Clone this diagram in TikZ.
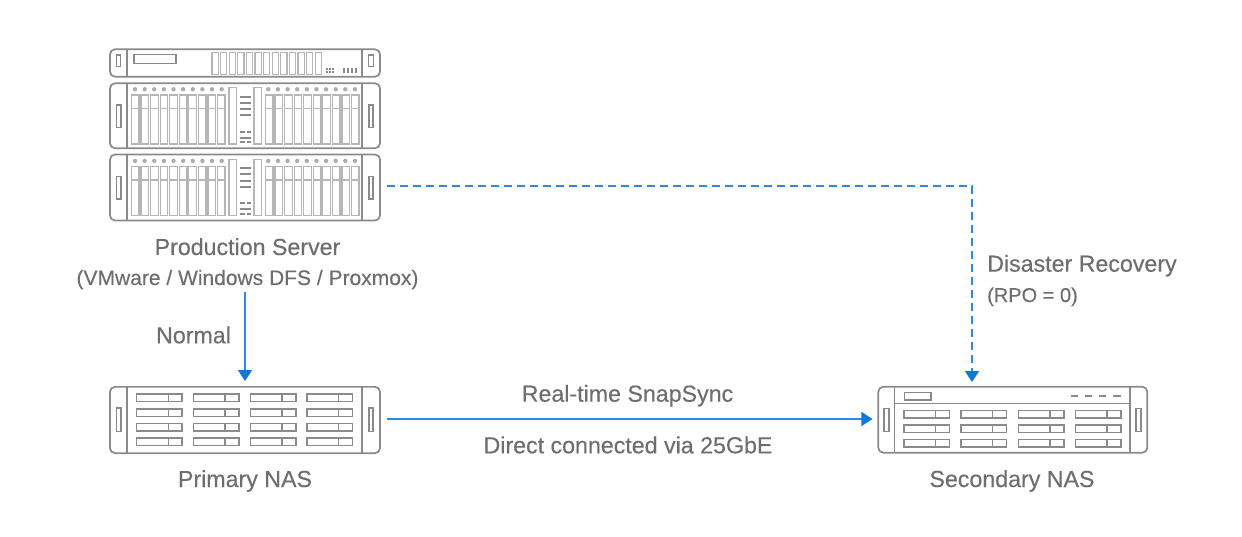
\documentclass[tikz,border=0pt]{standalone}
\usepackage{fontspec}
\setmainfont{Liberation Sans}[BoldFont={Liberation Sans},BoldFeatures={FakeBold=0.25}]
\usetikzlibrary{arrows.meta}
\definecolor{hw}{HTML}{8A8A8A}
\definecolor{txt}{HTML}{6E6E6E}
\definecolor{link}{HTML}{0F78DE}
\tikzset{
  chassis/.style={draw=hw,line width=1.7pt,rounded corners=5pt,inner sep=0pt,minimum width=#1},
  part/.style={draw=hw,line width=1.5pt},
  bay/.style={draw=hw!62,line width=1.3pt},
  bar/.style={draw=hw,line width=2pt},
  lab/.style={text=txt,font=\fontsize{23.2}{28}\selectfont\bfseries,inner sep=0pt,anchor=base},
  sublab/.style={text=txt,font=\fontsize{21}{26}\selectfont\bfseries,inner sep=0pt,anchor=base},
  conn/.style={draw=link!88!white,line width=1.7pt,-{Triangle[length=11pt,width=14pt,color=link]}},
}
\newcommand{\bladeserver}[1]{%
  \begin{scope}[yshift=#1]
    \draw[part] (127,83.3)--(127,148.3) (362,83.3)--(362,148.3);
    \draw[part] (116.5,105) rectangle (120.8,127.3) (368.8,105) rectangle (373.2,127.3);
    \foreach \i in {0,...,9}{
      \fill[hw!70] ({135+9.63*\i},89.3) circle (2.2pt);
      \fill[hw!70] ({268.3+9.63*\i},89.3) circle (2.2pt);
      \draw[bay] ({131.5+9.55*\i},95) rectangle ({131.5+9.55*\i+7.6},144);
      \draw[bay] ({265.5+9.55*\i},95) rectangle ({265.5+9.55*\i+7.6},144);
      \draw[bay] ({131.5+9.55*\i},108.3) -- ++(7.6,0);
      \draw[bay] ({265.5+9.55*\i},108.3) -- ++(7.6,0);
    }
    \draw[bay] (229,87.7) rectangle (236.7,144) (254,87.7) rectangle (261.7,144);
    \foreach \y in {96.7,102.7,109,115.3}{\draw[bar] (240,\y)--(251,\y);}
    \draw[bar] (240,137.7)--(251,137.7);
    \foreach \y in {131.7,142.3}{\draw[bar] (240,\y)--(244.5,\y) (246.5,\y)--(251,\y);}
  \end{scope}}
\newcommand{\drivebay}[2]{%
  \draw[part] (#1,#2) rectangle ++(45.5,7.5);
  \draw[part] ({#1+31.7},#2) -- ++(0,7.5);}
\begin{document}
\begin{tikzpicture}[x=1pt,y=-1pt]
\useasboundingbox (0,0) rectangle (1242,537);
\fill[white] (0,0) rectangle (1242,537);

% top server
\node[chassis=270pt,minimum height=27.4pt] (srvtop) at (245,63) {};
\draw[part] (127,49.3)--(127,76.7) (362,49.3)--(362,76.7);
\draw[part] (116.7,55) rectangle (120.7,66.7) (368.7,55) rectangle (373.3,66.7);
\draw[part] (134,54.3) rectangle (176,63.3);
\foreach \i in {0,...,12}{\draw[bay] ({212+8.6*\i},52.7) rectangle ({212+8.6*\i+6.2},74.3);}
\foreach \i in {0,1,2}{\draw[hw,line width=2pt] ({327+2.9*\i},68.5)--({327+2.9*\i},70.2) ({327+2.9*\i},71.5)--({327+2.9*\i},73);}
\foreach \i in {0,...,3}{\draw[hw,line width=2pt] ({344+3.9*\i},68)--({344+3.9*\i},73.2);}

% blade servers
\node[chassis=270pt,minimum height=65pt] (srvmid) at (245,115.8) {};
\bladeserver{0pt}
\node[chassis=270pt,minimum height=66pt] (srvlow) at (245,187.5) {};
\bladeserver{-71.6pt}

\node[lab] (prod) at (247.5,255) {Production Server};
\node[sublab] (prodsub) at (247.5,285) {(VMware / Windows DFS / Proxmox)};

% primary NAS
\node[chassis=270pt,minimum height=66.3pt] (pnas) at (245,420) {};
\draw[part] (127,387)--(127,453.3) (362,387)--(362,453.3);
\draw[part] (116.3,408) rectangle (120.8,431.7) (368.8,408) rectangle (373.2,431.7);
\foreach \x in {136.7,193.5,250.3,307}{\foreach \y in {394,409,423.6,438.2}{\drivebay{\x}{\y}}}
\node[lab] (pnaslab) at (245,487) {Primary NAS};

% secondary NAS
\node[chassis=269pt,minimum height=66pt] (snas) at (1012.8,419.7) {};
\draw[part] (894.3,386.7)--(894.3,452.7) (1130,386.7)--(1130,452.7) (894.3,403.3)--(1130,403.3);
\draw[part] (884.2,408.3) rectangle (889.2,431.7) (1136.2,408.3) rectangle (1141.2,431.7);
\draw[part] (904.3,392.7) rectangle (931,400);
\foreach \x in {1070.7,1084.7,1098.7,1113}{\draw[bar] (\x,396.3)--++(7.6,0);}
\foreach \x in {904,961,1018.3,1075.3}{\foreach \y in {410.7,425,439.4}{\drivebay{\x}{\y}}}
\node[lab] (snaslab) at (1012,487) {Secondary NAS};

% labels
\node[lab] (normal) at (193.5,343.3) {Normal};
\node[lab] (snap) at (627.5,401.7) {Real-time SnapSync};
\node[lab] (direct) at (628,453.3) {Direct connected via 25GbE};
\node[lab,anchor=base west] (dr) at (987,271.7) {Disaster Recovery};
\node[sublab,anchor=base west,font=\fontsize{20}{24}\selectfont\bfseries] (rpo) at (987,302) {(RPO = 0)};

% connectors
\coordinate (drin) at (972,382);
\coordinate (normalstart) at (245,291.7);
\coordinate (syncrow) at (0,419);
\coordinate (drrow) at (0,186);
\draw[conn] (normalstart) -- ([yshift=5pt]pnas.north);
\draw[conn,shorten <=6pt,shorten >=5pt] (pnas.east |- syncrow) -- (snas.west |- syncrow);
\draw[conn,dash pattern=on 8pt off 5pt,shorten <=6pt] (srvlow.east |- drrow) -- (drin |- drrow) -- (drin);
\end{tikzpicture}
\end{document}
